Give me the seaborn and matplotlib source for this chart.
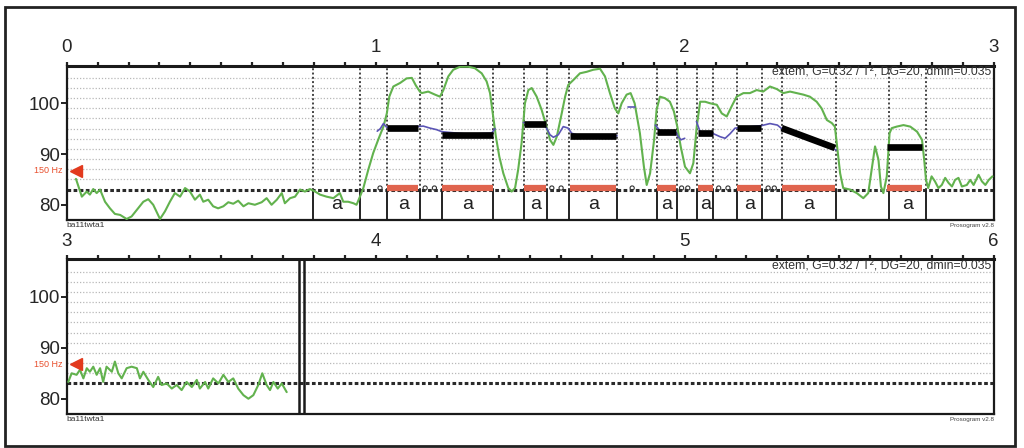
import numpy as np
import pandas as pd
import matplotlib
matplotlib.use("Agg")
import matplotlib.pyplot as plt
import seaborn as sns
from matplotlib.patches import Rectangle

# ---------------- data ----------------
# top panel F0 (green), time s / semitones
f0_top_t = [0.030,0.049,0.065,0.075,0.086,0.097,0.108,0.124,0.140,0.156,0.173,0.194,0.210,0.227,0.248,0.264,0.280,0.302,0.318,0.334,
            0.350,0.367,0.383,0.399,0.415,0.431,0.442,0.458,0.474,0.490,0.507,0.523,0.539,0.555,0.572,0.588,0.609,0.631,0.647,0.663,
            0.680,0.696,0.706,0.723,0.739,0.755,0.771,0.787,0.804,0.820,0.841,0.863,0.884,0.895,0.911,0.928,0.938,0.949,0.960,0.976,
            0.992,1.008,1.025,1.036,1.044,1.057,1.079,1.100,1.117,1.130,1.143,1.149,1.170,1.192,1.208,1.219,1.235,1.251,1.273,1.300,
            1.321,1.343,1.359,1.370,1.379,1.389,1.400,1.413,1.429,1.440,1.451,1.461,1.472,1.483,1.494,1.505,1.521,1.537,1.553,1.564,
            1.575,1.586,1.602,1.613,1.623,1.640,1.661,1.683,1.704,1.726,1.742,1.758,1.774,1.785,1.796,1.812,1.825,1.838,1.855,1.868,
            1.877,1.888,1.901,1.909,1.920,1.936,1.952,1.965,1.976,1.987,2.001,2.017,2.028,2.039,2.050,2.066,2.082,2.104,2.120,2.136,
            2.152,2.168,2.190,2.211,2.233,2.254,2.276,2.298,2.319,2.341,2.362,2.384,2.405,2.427,2.443,2.460,2.476,2.486,2.492,2.503,
            2.513,2.535,2.557,2.578,2.594,2.605,2.616,2.627,2.635,2.643,2.654,2.663,2.670,2.686,2.708,2.730,2.752,2.768,2.775,2.781,
            2.788,2.799,2.810,2.821,2.832,2.843,2.854,2.865,2.875,2.886,2.897,2.913,2.924,2.935,2.951,2.962,2.973,2.984,2.996]
f0_top_st = [85.1,81.6,82.6,82.0,83.1,82.3,83.0,80.6,79.3,78.2,78.0,77.2,77.7,79.0,80.6,81.1,80.0,77.2,78.7,80.6,
             82.3,81.6,83.3,82.6,81.0,82.0,80.6,81.0,79.7,79.3,79.7,80.5,80.2,80.8,79.7,80.3,80.0,80.5,81.3,80.0,
             81.0,82.3,80.3,81.3,81.6,83.0,82.6,83.1,82.6,82.0,81.6,81.3,82.3,80.6,80.6,80.3,80.0,81.6,83.3,86.9,
             90.2,92.8,95.4,98.0,101.3,103.3,104.0,104.9,105.0,103.5,102.3,102.0,102.3,101.7,101.3,102.6,105.3,106.6,107.2,107.2,
             106.9,105.9,104.3,102.0,98.0,93.4,89.5,86.2,83.3,82.6,83.3,86.9,92.1,100.0,102.6,103.0,101.3,98.7,95.4,92.8,
             91.8,93.4,98.0,101.3,103.6,104.6,105.9,106.2,106.6,106.8,105.3,102.0,99.0,98.0,100.0,101.7,102.0,100.0,94.1,87.5,
             83.9,86.2,92.8,98.7,101.3,101.0,100.3,98.4,95.4,91.5,87.5,86.2,88.2,95.4,100.3,100.3,100.0,99.7,98.0,97.4,
             99.4,101.3,102.0,102.0,102.6,102.3,103.3,102.8,102.0,102.3,102.0,101.7,101.3,100.3,99.0,96.7,96.1,95.4,92.1,86.2,
             83.3,83.0,82.3,81.3,82.3,86.9,91.5,88.9,83.6,82.3,85.6,94.1,95.1,95.4,95.7,95.4,94.4,92.8,88.9,84.9,
             83.3,85.6,84.6,83.3,83.9,85.3,84.3,83.6,84.9,85.3,83.6,83.9,84.9,83.9,85.9,84.6,83.9,84.9,85.6]

# bottom panel F0 (green)
f0_bot_t = [3.005,3.016,3.032,3.043,3.054,3.065,3.075,3.086,3.097,3.108,3.118,3.129,3.146,3.156,3.167,3.178,3.194,3.210,3.227,3.237,
            3.248,3.264,3.280,3.296,3.307,3.324,3.340,3.356,3.372,3.388,3.405,3.421,3.431,3.448,3.458,3.474,3.491,3.507,3.523,3.539,
            3.555,3.572,3.588,3.604,3.620,3.633,3.647,3.658,3.669,3.683,3.696,3.712]
f0_bot_st = [83.3,85.0,84.7,85.7,84.0,86.0,85.3,86.3,84.7,86.0,83.3,86.3,85.3,87.3,85.0,84.0,86.0,86.3,86.0,84.0,
             85.3,83.7,82.3,84.3,82.7,83.0,82.0,82.7,81.7,83.3,82.3,83.7,82.0,83.3,82.0,84.0,83.0,84.7,83.3,84.0,
             82.0,80.7,80.0,80.7,82.7,85.0,82.7,81.7,83.3,82.0,83.0,81.3]

# intensity-based pitch (blue), segments
blue_seg_id = [0]*13 + [1]*12 + [2]*2 + [3]*6 + [4]*15
blue_t = [1.005,1.015,1.025,1.035,1.080,1.133,1.154,1.176,1.197,1.214,1.300,1.375,1.386,
          1.478,1.546,1.553,1.564,1.575,1.591,1.607,1.623,1.634,1.660,1.720,1.781,
          1.817,1.839,
          1.905,1.920,1.972,1.978,1.988,2.000,
          2.038,2.050,2.093,2.115,2.131,2.147,2.163,2.200,2.249,2.276,2.300,2.314,2.400,2.450,2.490]
blue_st = [94.5,95.0,96.0,95.3,95.1,95.4,95.5,95.1,94.8,94.4,93.9,94.1,95.0,
           96.2,95.6,95.1,93.8,93.3,93.8,95.4,95.1,94.1,93.6,93.5,93.6,
           99.2,99.2,
           95.7,94.6,94.3,93.5,92.8,93.1,
           96.4,94.4,94.0,93.4,93.1,94.0,95.1,95.3,95.6,96.0,95.7,95.0,92.9,91.8,90.8]

# stylised nuclei (black)
nuc_start = [1.037,1.213,1.480,1.630,1.910,2.042,2.170,2.314,2.655]
nuc_end   = [1.136,1.381,1.550,1.778,1.972,2.093,2.247,2.486,2.767]
nuc_st0   = [95.1,93.8,95.9,93.6,94.4,94.1,95.2,95.1,91.4]
nuc_st1   = [95.1,93.8,95.9,93.6,94.4,94.1,95.2,91.2,91.4]

# syllable boundaries and labels
bounds = [0.797,0.949,1.037,1.144,1.213,1.381,1.480,1.555,1.627,1.781,1.910,1.975,
          2.041,2.093,2.170,2.249,2.314,2.489,2.660,2.782]
syl_start = [0.797,1.037,1.213,1.480,1.627,1.910,2.041,2.170,2.314,2.660]
syl_end   = [0.949,1.144,1.381,1.555,1.781,1.975,2.093,2.249,2.489,2.782]
syl_label = ["a"]*10

# small intensity marks between nuclei
dot_t = [1.014,1.16,1.19,1.57,1.60,1.83,1.99,2.01,2.11,2.14,2.27,2.29]

end_lines = [3.752,3.769]
ref_st = 12*np.log2(150)
info_text = "extem, G=0.32 / T\u00b2, DG=20, dmin=0.035"

# ---------------- style ----------------
sns.set_theme(style="white")
plt.rcParams['font.family'] = ['Liberation Sans', 'DejaVu Sans']

W, H = 1024, 448
fig = plt.figure(figsize=(W/100, H/100), dpi=100)
ax1 = fig.add_axes([66.7/W, 1-220/H, 927/W, 154.3/H])
ax2 = fig.add_axes([66.7/W, 1-414/H, 927/W, 154.7/H])

YMIN, YMAX = 77.0, 107.4
TIER = 83.0
green = "#62b24e"

def base(ax, t0):
    ax.set_xlim(t0, t0+3)
    ax.set_ylim(YMIN, YMAX)
    for g in np.arange(85, 106, 2):
        ax.axhline(g, color="#b8b8b8", lw=0.9, ls=(0, (1, 1.5)), zorder=1)
    ax.axhline(TIER, color="#2a2a2a", lw=2.2, ls=(0, (1.2, 0.8)), zorder=2)
    ax.xaxis.tick_top()
    ax.set_xticks(np.arange(t0, t0+3.01, 1.0))
    ax.set_xticklabels([str(int(round(v))) for v in np.arange(t0, t0+3.01, 1.0)])
    ax.set_xticks(np.arange(t0, t0+3.001, 0.1), minor=True)
    ax.tick_params(axis='x', which='both', top=True, bottom=False, labeltop=True, labelbottom=False,
                   direction='out', length=3, width=1.6, pad=4, labelsize=13.5, color='#222')
    ax.set_yticks([80, 90, 100])
    ax.tick_params(axis='y', which='major', left=True, direction='out', length=4, width=1.4,
                   pad=1, labelsize=13.5, color='#222')
    for s in ax.spines.values():
        s.set_color('#1a1a1a')
        s.set_linewidth(1.6)
    ax.spines['top'].set_linewidth(2.2)
    ax.set_xlabel(""); ax.set_ylabel("")
    ax.plot([t0+0.03], [ref_st], marker='<', color='#e23a1e', markersize=8, clip_on=False, zorder=6)
    ax.text(-0.004, ref_st, "150 Hz", transform=ax.get_yaxis_transform(), ha='right', va='center',
            color='#e8502e', fontsize=6.5)
    ax.text(0.997, 0.955, info_text, transform=ax.transAxes, ha='right', va='center', fontsize=8.8, color='#333')
    ax.text(0.0, -0.012, "ba11twta1", transform=ax.transAxes, ha='left', va='top', fontsize=6, color='#333')
    ax.text(1.0, -0.02, "Prosogram v2.8", transform=ax.transAxes, ha='right', va='top', fontsize=4.5, color='#444')

base(ax1, 0.0)
base(ax2, 3.0)

# top panel boundaries
for b in bounds:
    ax1.plot([b, b], [TIER, YMAX], color="#444", lw=1.4, ls=(0, (1, 1.2)), zorder=2)
    ax1.plot([b, b], [YMIN, TIER], color="#222", lw=1.4, zorder=2)
for s, e, lab in zip(syl_start, syl_end, syl_label):
    ax1.text((s+e)/2, 80.1, lab, ha='center', va='center', fontsize=14, color='#222', zorder=5)

# nucleus marks on tier line
for s, e in zip(nuc_start, nuc_end):
    ax1.plot([s, e], [TIER+0.35, TIER+0.35], color="#e0644e", lw=4.5, solid_capstyle='butt', zorder=3)
ax1.scatter(dot_t, [TIER+0.3]*len(dot_t), s=9, facecolors='none', edgecolors='#333', linewidths=0.8, zorder=3)

# green F0
sns.lineplot(x=f0_top_t, y=f0_top_st, ax=ax1, color=green, lw=1.5, sort=False, estimator=None, zorder=4)
sns.lineplot(x=f0_bot_t, y=f0_bot_st, ax=ax2, color=green, lw=1.5, sort=False, estimator=None, zorder=4)

# blue curve
bdf = pd.DataFrame({"t": blue_t, "st": blue_st, "seg": blue_seg_id})
sns.lineplot(data=bdf, x="t", y="st", units="seg", estimator=None, ax=ax1, color="#5b55b5",
             lw=1.2, sort=False, zorder=5, legend=False)

# nuclei stylisation
for s, e, a, b in zip(nuc_start, nuc_end, nuc_st0, nuc_st1):
    ax1.plot([s, e], [a, b], color='black', lw=4.8, solid_capstyle='butt', zorder=6)

# bottom panel end of signal
for x in end_lines:
    ax2.axvline(x, color='#1a1a1a', lw=1.8, zorder=5)

for ax in (ax1, ax2):
    ax.set_xlabel(""); ax.set_ylabel("")

fig.patches.append(Rectangle((5/W, 1-446/H), 1010/W, 439/H, transform=fig.transFigure,
                             fill=False, edgecolor='#222', lw=2))

fig.savefig("out.png", dpi=100)
